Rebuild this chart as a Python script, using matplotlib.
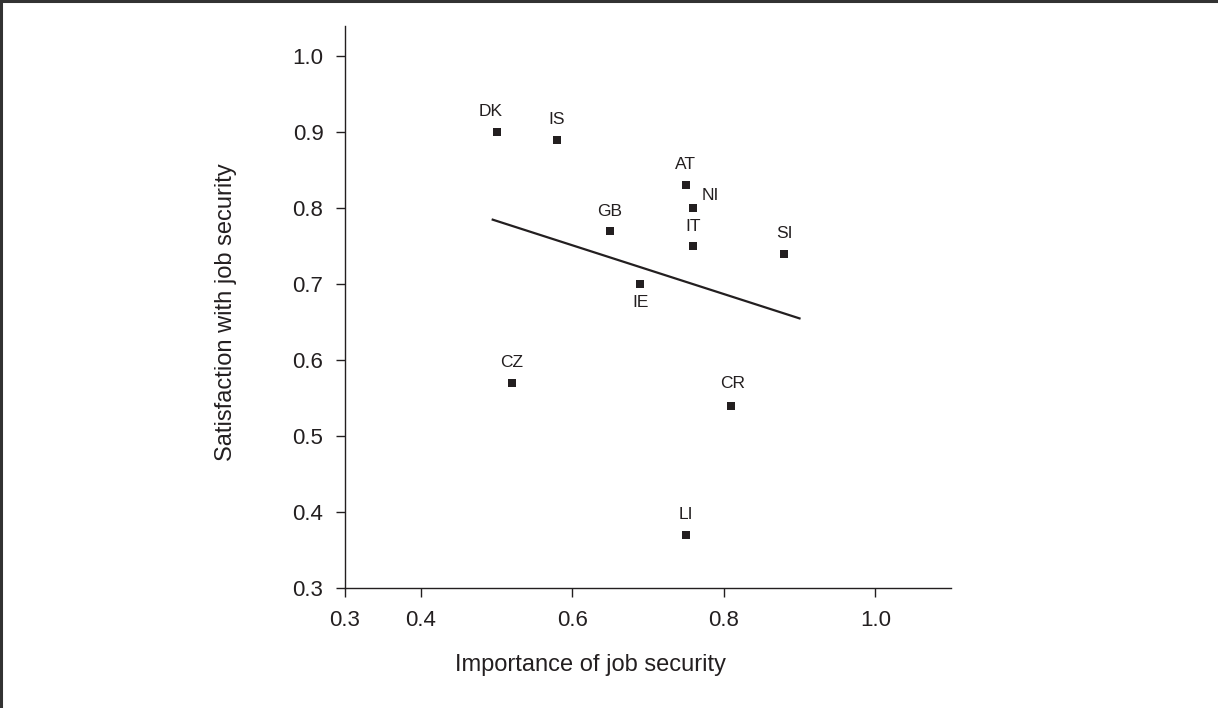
# Importance vs satisfaction with job security, by country

import matplotlib
matplotlib.use("Agg")
import matplotlib.pyplot as plt
from matplotlib.lines import Line2D

# ------------------------------------------
# Data
# ------------------------------------------

countries = ["DK", "IS", "AT", "NI", "GB", "IT", "SI", "IE", "CZ", "CR", "LI"]
importance = [0.50, 0.58, 0.75, 0.76, 0.65, 0.76, 0.88, 0.69, 0.52, 0.81, 0.75]
satisfaction = [0.90, 0.89, 0.83, 0.80, 0.77, 0.75, 0.74, 0.70, 0.57, 0.54, 0.37]

fit_x = [0.495, 0.90]
fit_y = [0.785, 0.655]

x_ticks = [0.3, 0.4, 0.6, 0.8, 1.0]
y_ticks = [0.3, 0.4, 0.5, 0.6, 0.7, 0.8, 0.9, 1.0]

# label offsets in points (dx, dy)
label_offsets = {
    "DK": (-4, 15), "IS": (0, 15), "AT": (0, 15), "NI": (12, 9),
    "GB": (0, 14), "IT": (0, 14), "SI": (0, 15), "IE": (0, -13),
    "CZ": (0, 15), "CR": (1, 16), "LI": (0, 15),
}

# ------------------------------------------
# Style
# ------------------------------------------

plt.rcParams["font.family"] = ["Liberation Sans", "DejaVu Sans"]
ink = "#231f20"

fig = plt.figure(figsize=(12.18, 7.08), dpi=100)
ax = fig.add_axes([345 / 1218, 1 - 588 / 708, 606 / 1218, 562 / 708])

# outer frame (top and left edge only visible)
fig.add_artist(Line2D([0.001, 0.001], [0, 0.999], transform=fig.transFigure,
                      color="#333333", lw=2.2))
fig.add_artist(Line2D([0, 1], [0.998, 0.998], transform=fig.transFigure,
                      color="#333333", lw=2.2))

# ------------------------------------------
# Plot
# ------------------------------------------

ax.plot(fit_x, fit_y, color=ink, lw=1.6, zorder=2)

ax.scatter(importance, satisfaction, marker="s", s=36, color=ink,
           linewidths=0, zorder=3)

for name, xv, yv in zip(countries, importance, satisfaction):
    dx, dy = label_offsets[name]
    ax.annotate(name, (xv, yv), xytext=(dx, dy), textcoords="offset points",
                ha="center", va="center", fontsize=12.5, color=ink)

ax.set_xlim(0.3, 1.1)
ax.set_ylim(0.3, 1.04)

ax.set_xticks(x_ticks)
ax.set_xticklabels([f"{v:.1f}" for v in x_ticks])
ax.set_yticks(y_ticks)
ax.set_yticklabels([f"{v:.1f}" for v in y_ticks])

ax.tick_params(axis="both", direction="out", length=6.5, width=1.0,
               colors=ink, labelsize=16)
ax.tick_params(axis="y", pad=9)
ax.tick_params(axis="x", pad=9)

for side in ["top", "right"]:
    ax.spines[side].set_visible(False)
for side in ["left", "bottom"]:
    ax.spines[side].set_color(ink)
    ax.spines[side].set_linewidth(1.0)

ax.set_xlabel("Importance of job security", fontsize=17, color=ink)
ax.set_ylabel("Satisfaction with job security", fontsize=17, color=ink)
ax.xaxis.set_label_coords(0.405, -0.118)
ax.yaxis.set_label_coords(-0.178, 0.49)

fig.savefig("out.png", dpi=100)
